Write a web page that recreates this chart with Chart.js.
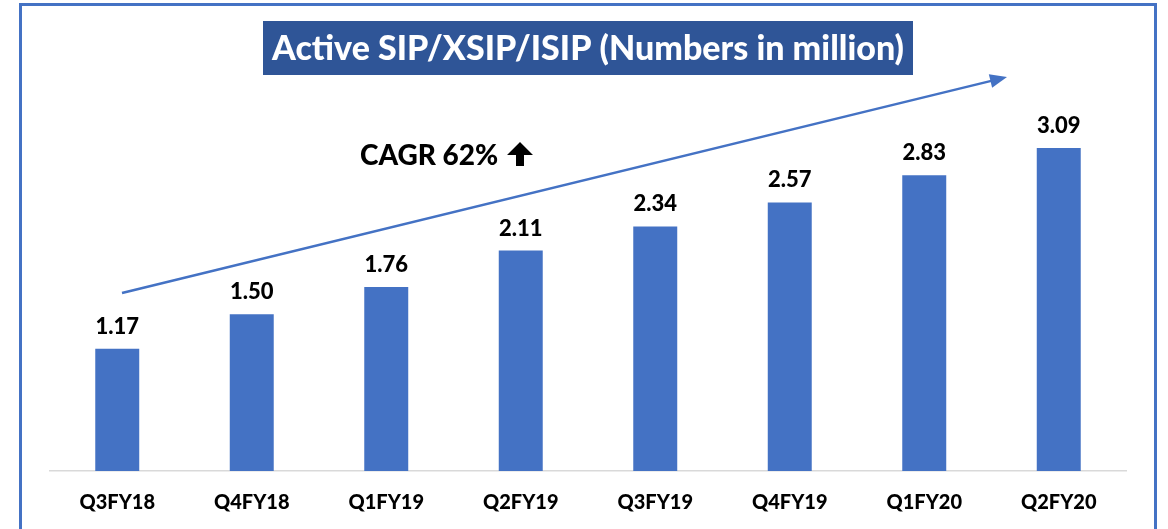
<!DOCTYPE html>
<html>
<head>
<meta charset="utf-8">
<script src="https://cdn.jsdelivr.net/npm/chart.js@4"></script>
<style>
  html, body { margin: 0; padding: 0; background: #fff; }
  #wrap { width: 1168px; height: 529px; position: relative; }
</style>
</head>
<body>
<div id="wrap"><canvas id="myChart" width="1168" height="529"></canvas></div>
<script>
var quarters = ['Q3FY18', 'Q4FY18', 'Q1FY19', 'Q2FY19', 'Q3FY19', 'Q4FY19', 'Q1FY20', 'Q2FY20'];
var activeSips = [1.17, 1.50, 1.76, 2.11, 2.34, 2.57, 2.83, 3.09];
var chartTitle = 'Active SIP/XSIP/ISIP (Numbers in million)';
var cagrText = 'CAGR 62%';

var barBlue = '#4472C4';
var titleBlue = '#2F5597';
var font = 'Lato, "Open Sans", sans-serif';

// frame, title box, growth arrow and CAGR note
var decorPlugin = {
    id: 'decor',
    afterDraw: function (chart) {
        var ctx = chart.ctx;
        ctx.save();

        ctx.strokeStyle = barBlue;
        ctx.lineWidth = 3;
        ctx.strokeRect(20.5, 4.5, 1135, 560);

        ctx.fillStyle = titleBlue;
        ctx.fillRect(263, 21, 650, 54);
        ctx.fillStyle = '#fff';
        ctx.font = '900 34px ' + font;
        ctx.textAlign = 'center';
        ctx.textBaseline = 'middle';
        ctx.fillText(chartTitle, 588, 49);

        // trend arrow
        var x1 = 122, y1 = 293, x2 = 1007, y2 = 77;
        var ang = Math.atan2(y2 - y1, x2 - x1);
        ctx.strokeStyle = barBlue;
        ctx.lineWidth = 2.5;
        ctx.beginPath();
        ctx.moveTo(x1, y1);
        ctx.lineTo(x2 - 12 * Math.cos(ang), y2 - 12 * Math.sin(ang));
        ctx.stroke();
        ctx.fillStyle = barBlue;
        ctx.beginPath();
        ctx.moveTo(x2, y2);
        ctx.lineTo(x2 - 17 * Math.cos(ang) + 7 * Math.sin(ang), y2 - 17 * Math.sin(ang) - 7 * Math.cos(ang));
        ctx.lineTo(x2 - 17 * Math.cos(ang) - 7 * Math.sin(ang), y2 - 17 * Math.sin(ang) + 7 * Math.cos(ang));
        ctx.closePath();
        ctx.fill();

        ctx.fillStyle = '#000';
        ctx.font = '900 28px ' + font;
        ctx.textAlign = 'left';
        ctx.textBaseline = 'alphabetic';
        ctx.fillText(cagrText, 360, 165);

        // up arrow glyph
        ctx.beginPath();
        ctx.moveTo(520, 142);
        ctx.lineTo(533, 155);
        ctx.lineTo(524, 155);
        ctx.lineTo(524, 166);
        ctx.lineTo(516, 166);
        ctx.lineTo(516, 155);
        ctx.lineTo(507, 155);
        ctx.closePath();
        ctx.fill();

        ctx.restore();
    }
};

// value labels above bars
var valueLabels = {
    id: 'valueLabels',
    afterDatasetsDraw: function (chart) {
        var ctx = chart.ctx;
        var meta = chart.getDatasetMeta(0);
        ctx.save();
        ctx.fillStyle = '#000';
        ctx.font = '900 22px ' + font;
        ctx.textAlign = 'center';
        ctx.textBaseline = 'alphabetic';
        meta.data.forEach(function (bar, i) {
            ctx.fillText(activeSips[i].toFixed(2), bar.x, bar.y - 15);
        });
        ctx.restore();
    }
};

var ctx = document.getElementById('myChart').getContext('2d');
var myChart = new Chart(ctx, {
    type: 'bar',
    data: {
        labels: quarters,
        datasets: [{
            data: activeSips,
            backgroundColor: barBlue,
            borderWidth: 0,
            barPercentage: 0.327,
            categoryPercentage: 1
        }]
    },
    options: {
        responsive: false,
        animation: false,
        layout: { padding: { left: 50, right: 42, top: 53, bottom: -6 } },
        plugins: {
            legend: { display: false },
            tooltip: { enabled: false }
        },
        scales: {
            x: {
                grid: { display: false, drawTicks: false },
                border: { display: true, color: '#D9D9D9', width: 1.5 },
                ticks: {
                    color: '#000',
                    padding: 20,
                    font: { family: font, size: 20, weight: '900' }
                }
            },
            y: {
                display: false,
                min: 0,
                max: 4
            }
        }
    },
    plugins: [decorPlugin, valueLabels]
});
</script>
</body>
</html>
